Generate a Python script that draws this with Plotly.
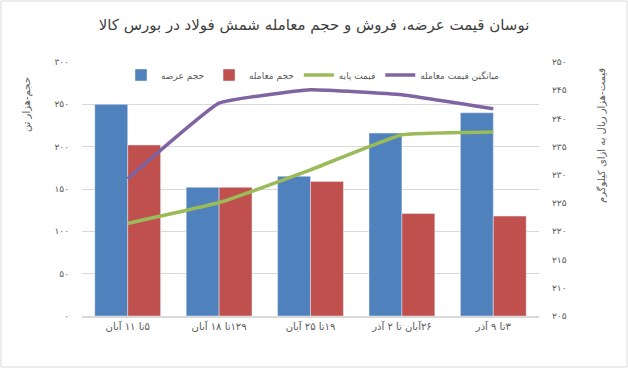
import plotly.graph_objects as go

RLM = "\u200f"
categories = ["۵تا ۱۱ آبان", "۱۲۹تا ۱۸ آبان", "۱۹تا ۲۵ آبان", "۲۶آبان تا ۲ آذر", "۳تا ۹ آذر"]
supply_volume = [250, 152, 165, 216, 240]
trade_volume = [202, 152, 159, 121, 118]
base_price = [221.4, 225.1, 230.9, 237.1, 237.6]
avg_trade_price = [229.3, 242.7, 245.1, 244.2, 241.7]

left_ticks = [0, 50, 100, 150, 200, 250, 300]
right_ticks = [205, 210, 215, 220, 225, 230, 235, 240, 245, 250]

def fa(n):
    return str(n).translate(str.maketrans("0123456789", "۰۱۲۳۴۵۶۷۸۹"))

cats = [RLM + c for c in categories]
FONT = "DejaVu Sans"
GREY = "#595959"

fig = go.Figure()
fig.add_trace(go.Bar(x=cats, y=supply_volume, name="حجم عرضه", marker_color="#4F81BD"))
fig.add_trace(go.Bar(x=cats, y=trade_volume, name="حجم معامله", marker_color="#C0504D"))
fig.add_trace(go.Scatter(x=cats, y=base_price, name="قیمت پایه", yaxis="y2", mode="lines",
                         line=dict(color="#9BBB59", width=3.5, shape="spline", smoothing=0.3)))
fig.add_trace(go.Scatter(x=cats, y=avg_trade_price, name="میانگین قیمت معامله", yaxis="y2", mode="lines",
                         line=dict(color="#8064A2", width=3.5, shape="spline", smoothing=0.3)))

W, H = 628, 368
ml, mr, mt, mb = 82, 89, 62, 52
pw, ph = W - ml - mr, H - mt - mb

fig.update_layout(
    width=W, height=H,
    margin=dict(l=ml, r=mr, t=mt, b=mb),
    paper_bgcolor="white", plot_bgcolor="white",
    barmode="group", bargap=0.28, bargroupgap=0,
    font=dict(family=FONT, color=GREY, size=10),
    title=dict(text=RLM + "نوسان قیمت عرضه، فروش و حجم معامله شمش فولاد در بورس کالا",
               x=0.5, xanchor="center", y=1 - 25 / H, yanchor="middle",
               font=dict(family=FONT, size=15, color="#404040")),
    showlegend=True,
    legend=dict(orientation="h", x=(313 - ml) / pw, xanchor="center",
                y=1 - (75 - mt) / ph, yanchor="middle", font=dict(size=9, color=GREY),
                bgcolor="rgba(0,0,0,0)", itemwidth=30, tracegroupgap=0),
    xaxis=dict(showgrid=False, showline=True, linecolor="#d9d9d9", linewidth=1.5,
               ticks="", tickfont=dict(size=10, color=GREY)),
    yaxis=dict(range=[0, 300], tickvals=left_ticks, ticktext=[fa(v) for v in left_ticks],
               showgrid=True, gridcolor="#d9d9d9", gridwidth=1, zeroline=False,
               ticks="", ticklabelstandoff=12, tickfont=dict(size=9, color=GREY)),
    yaxis2=dict(range=[205, 250], overlaying="y", side="right", tickvals=right_ticks,
                ticktext=[fa(v) for v in right_ticks], showgrid=False, zeroline=False,
                ticks="", ticklabelstandoff=12, tickfont=dict(size=9, color=GREY)),
    annotations=[
        dict(text=RLM + "حجم-هزار تن", xref="paper", yref="paper",
             x=(27 - ml) / pw, y=1 - (105 - mt) / ph, xanchor="center", yanchor="middle",
             textangle=-90, showarrow=False, font=dict(size=10, color=GREY)),
        dict(text=RLM + "قیمت-هزار ریال به ازای کیلوگرم", xref="paper", yref="paper",
             x=(601 - ml) / pw, y=1 - (136 - mt) / ph, xanchor="center", yanchor="middle",
             textangle=-90, showarrow=False, font=dict(size=10, color=GREY)),
    ],
    shapes=[dict(type="rect", xref="paper", yref="paper",
                 x0=(1 - ml) / pw, x1=(W - 1 - ml) / pw,
                 y0=1 - (H - 1 - mt) / ph, y1=1 - (1 - mt) / ph,
                 line=dict(color="#d9d9d9", width=1), layer="below")],
)

fig.write_html("out.html", config={"displayModeBar": False},
               post_script="document.body.style.margin='0';document.body.style.overflow='hidden';")
